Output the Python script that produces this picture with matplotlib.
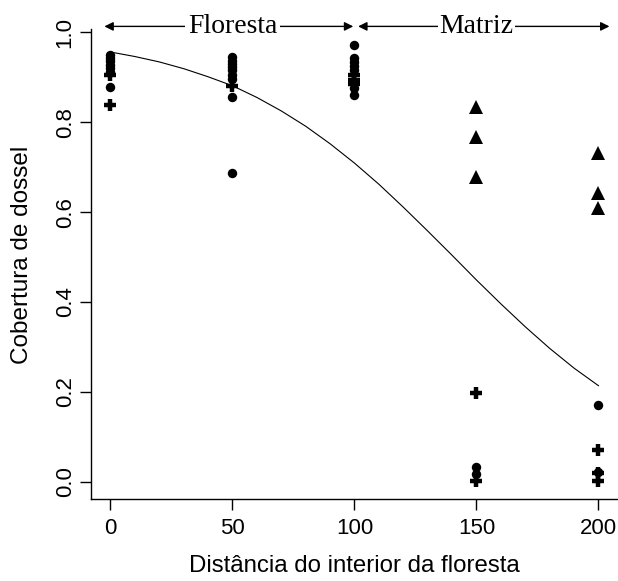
import numpy as np
import matplotlib
matplotlib.use('Agg')
import matplotlib.pyplot as plt

# canopy cover readings (x = distance, y = cover), split by marker
circ_x = [0, 0, 0, 0, 0, 0, 0,
          50, 50, 50, 50, 50, 50, 50, 50, 50,
          100, 100, 100, 100, 100, 100, 100,
          150, 150,
          200, 200]
circ_y = [0.950, 0.942, 0.935, 0.928, 0.920, 0.912, 0.878,
          0.945, 0.937, 0.930, 0.922, 0.915, 0.905, 0.895, 0.856, 0.687,
          0.971, 0.942, 0.933, 0.924, 0.915, 0.875, 0.860,
          0.033, 0.018,
          0.171, 0.022]

tri_x = [150, 150, 150, 200, 200, 200]
tri_y = [0.833, 0.767, 0.678, 0.731, 0.642, 0.609]

plus_x = [0, 0, 50, 100, 100, 100, 150, 150, 200, 200, 200]
plus_y = [0.905, 0.838, 0.880, 0.905, 0.893, 0.884, 0.198, 0.003, 0.071, 0.020, 0.003]

# fitted curve, every 10 units
curve_x = [0, 10, 20, 30, 40, 50, 60, 70, 80, 90, 100,
           110, 120, 130, 140, 150, 160, 170, 180, 190, 200]
curve_y = [0.956, 0.946, 0.934, 0.919, 0.901, 0.881, 0.855, 0.825, 0.791, 0.752, 0.709,
           0.662, 0.611, 0.558, 0.504, 0.449, 0.396, 0.345, 0.297, 0.253, 0.214]

xticks = [0, 50, 100, 150, 200]
yticks = [0.0, 0.2, 0.4, 0.6, 0.8, 1.0]
ytick_labels = ['0.0', '0.2', '0.4', '0.6', '0.8', '1.0']

plt.rcParams['font.family'] = ['Liberation Sans', 'DejaVu Sans']

fig = plt.figure(figsize=(6.18, 5.81), dpi=100)
ax = fig.add_axes([0.1472, 0.1411, 0.8528, 0.8096])

ax.plot(curve_x, curve_y, 'k-', lw=0.8)
ax.plot(circ_x, circ_y, 'ko', ms=6.8, mew=0)
ax.plot(tri_x, tri_y, 'k^', ms=10, mew=0)
ax.plot(plus_x, plus_y, 'k+', ms=9, mew=3.2)

ax.set_xlim(-8, 208)
ax.set_ylim(-0.038, 1.008)

ax.spines['top'].set_visible(False)
ax.spines['right'].set_visible(False)
ax.spines['left'].set_linewidth(1)
ax.spines['bottom'].set_linewidth(1)

ax.set_xticks(xticks)
ax.set_yticks(yticks)
ax.set_yticklabels(ytick_labels, rotation=90, va='center')
ax.tick_params(axis='both', direction='out', length=8, width=1, labelsize=16)
ax.tick_params(axis='x', pad=6)
ax.tick_params(axis='y', pad=3)

ax.set_xlabel('Distância do interior da floresta', fontsize=17.3)
ax.set_ylabel('Cobertura de dossel', fontsize=17.5)
ax.xaxis.set_label_coords(0.5, -0.142)
ax.xaxis.label.set_va('center')
ax.yaxis.set_label_coords(-0.131, 0.52)
ax.yaxis.label.set_va('center')

# Floresta / Matriz arrows on top
arr = dict(arrowstyle='<|-|>', color='k', lw=1, mutation_scale=13, shrinkA=0, shrinkB=0)
ax.annotate('', xy=(-2.5, 1.013), xytext=(99.5, 1.013), arrowprops=arr, annotation_clip=False)
ax.annotate('', xy=(101.5, 1.013), xytext=(204.5, 1.013), arrowprops=arr, annotation_clip=False)
ax.text(50, 1.013, 'Floresta', ha='center', va='center', fontsize=20,
        family='Liberation Serif', clip_on=False,
        bbox=dict(facecolor='white', edgecolor='none', pad=2))
ax.text(150, 1.013, 'Matriz', ha='center', va='center', fontsize=20,
        family='Liberation Serif', clip_on=False,
        bbox=dict(facecolor='white', edgecolor='none', pad=1))

fig.savefig('out.png', dpi=100)
